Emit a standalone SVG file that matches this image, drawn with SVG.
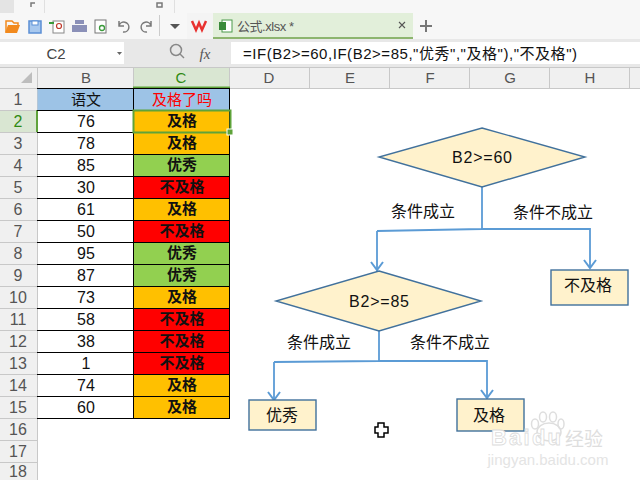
<svg xmlns="http://www.w3.org/2000/svg" width="640" height="480" viewBox="0 0 640 480">
<style>
text{font-family:"Liberation Sans","Noto Sans CJK SC",sans-serif;text-anchor:middle}
.hd{font-size:15px;fill:#555}
.rn{font-size:16px;fill:#555}
.act{fill:#2f8a12}
.v{font-size:16px;fill:#111}
.c{font-size:15px;fill:#111}
.r{font-size:15px;font-weight:bold;fill:#111}
.cell{stroke:#000;stroke-width:1}
.hl{stroke:#c8c8c8;stroke-width:1;fill:none}
.shape{fill:#fff2cc;stroke:#41719c;stroke-width:1.4}
.fl{font-size:16px;fill:#111}
.lb{font-size:16px;fill:#111}
.con{fill:none;stroke:#5b9bd5;stroke-width:1.8}
.head{fill:none;stroke:#5b9bd5;stroke-width:2}
.ic{fill:none;stroke:#7a7a7a;stroke-width:1.5}
.paw{fill:none;stroke:#dedede;stroke-width:1.5}
</style>
<rect width="640" height="480" fill="#fff"/>
<g id="toolbar">
<rect width="640" height="40" fill="#f7f7f7"/>
<rect width="14" height="13" fill="#e4e4e4"/>
<rect x="44" width="1" height="13" fill="#e0e0e0"/>
<rect x="174" width="1" height="13" fill="#e0e0e0"/>
<path class="ic" d="M31 7V3h4M157 7h5V3h-5z" stroke-width="1"/>
<path d="M5 33l3-8h12l-3 8z" fill="#f28a1e"/>
<path d="M6 32V21h6l2 2h4v2" fill="none" stroke="#f28a1e" stroke-width="1.500"/>
<rect x="29" y="21" width="12" height="12" fill="#a8c8ee" stroke="#5b8fd5" stroke-width="1.500"/>
<rect x="32" y="21" width="6" height="4" fill="#fff" stroke="#5b8fd5"/>
<rect x="53" y="21" width="11" height="12" fill="#fff" stroke="#888"/>
<circle cx="59" cy="26" r="2.500" fill="none" stroke="#c0392b" stroke-width="1.200"/>
<path d="M49 23h5" stroke="#3a9a3a" stroke-width="2"/>
<rect x="72" y="25" width="15" height="7" fill="#8b90b8"/>
<rect x="75" y="20" width="9" height="4" fill="#8b90b8"/>
<rect x="95" y="20" width="11" height="13" fill="#fff" stroke="#777"/>
<circle cx="102" cy="28" r="2.500" fill="none" stroke="#3a9a3a" stroke-width="1.300"/>
<path class="ic" d="M119 26a5 5 0 1 1 4 6M119 21v5h5" stroke="#666" stroke-width="2"/>
<path class="ic" d="M151 26a5 5 0 1 0-4 6M151 21v5h-5" stroke="#bbb" stroke-width="2"/>
<rect x="159" y="15" width="1" height="21" fill="#ccc"/>
<path d="M170 24h10l-5 5z" fill="#555"/>
<rect x="187" y="13" width="26" height="26" fill="#f4f4f4"/>
<path d="M192 21l4 9 3-7 3 7 4-9" fill="none" stroke="#e8312f" stroke-width="2.500"/>
<rect x="213" y="13" width="200" height="26" fill="#e2efda"/>
<rect x="213" y="37" width="200" height="2" fill="#8db56f"/>
<rect x="222" y="20" width="10" height="12" fill="#fff" stroke="#4a9a4a"/>
<rect x="219" y="22" width="7" height="8" fill="#3a8a3a"/>
<text x="237" y="31" font-size="13" fill="#555" style="text-anchor:start" textLength="57">公式.xlsx *</text>
<path d="M399 22l6 6M405 22l-6 6" stroke="#555" stroke-width="1.100"/>
<path d="M426 20v12M420 26h12" stroke="#777" stroke-width="2"/>
</g>
<g id="formula-bar">
<rect y="39" width="640" height="28" fill="#e8e8e8"/>
<rect y="42" width="124" height="22" fill="#fff"/>
<text x="56" y="59" font-size="15" fill="#444">C2</text>
<path d="M117 52h5l-2.500 3z" fill="#666"/>
<circle cx="176" cy="50" r="5.500" fill="none" stroke="#888" stroke-width="1.500"/>
<path d="M180 54l4 4" stroke="#888" stroke-width="1.500"/>
<text x="205" y="59" font-size="15" font-style="italic" fill="#555" style="font-family:'Liberation Serif',serif">fx</text>
<rect x="231" y="42" width="409" height="22" fill="#fff"/>
<text x="243" y="59" font-size="15" fill="#111" style="text-anchor:start" textLength="334">=IF(B2&gt;=60,IF(B2&gt;=85,"优秀","及格"),"不及格")</text>
</g>
<g id="sheet-headers">
<rect y="67" width="640" height="21" fill="#f0f0f0"/>
<rect y="88" width="37" height="392" fill="#f0f0f0"/>
<rect x="133" y="67" width="97" height="21" fill="#d9e6d2"/>
<rect y="110" width="37" height="22" fill="#d9e6d2"/>
<path d="M32 72v11h-11z" fill="#bdbdbd"/>
<path class="hl" d="M0 67.500H640M0 88.500H640M37.500 67V480M133.500 67V88M229.500 67V88M309.500 67V88M389.500 67V88M469.500 67V88M549.500 67V88M629.500 67V88"/>
<path class="hl" d="M0 110.500H37M0 132.500H37M0 154.500H37M0 176.500H37M0 198.500H37M0 220.500H37M0 242.500H37M0 264.500H37M0 286.500H37M0 308.500H37M0 330.500H37M0 352.500H37M0 374.500H37M0 396.500H37M0 418.500H37M0 440.500H37M0 462.500H37"/>
<rect x="36" y="110" width="2" height="22" fill="#5fa33a"/>
<rect x="133" y="86.500" width="97" height="2" fill="#5fa33a"/>
<text class="hd" x="86" y="83">B</text><text class="hd act" x="181" y="83">C</text><text class="hd" x="269" y="83">D</text><text class="hd" x="350" y="83">E</text><text class="hd" x="430" y="83">F</text><text class="hd" x="510" y="83">G</text><text class="hd" x="590" y="83">H</text>
<text class="rn" x="18" y="105">1</text><text class="rn act" x="18" y="127">2</text><text class="rn" x="18" y="149">3</text><text class="rn" x="18" y="171">4</text><text class="rn" x="18" y="193">5</text><text class="rn" x="18" y="215">6</text><text class="rn" x="18" y="237">7</text><text class="rn" x="18" y="259">8</text><text class="rn" x="18" y="281">9</text><text class="rn" x="18" y="303">10</text><text class="rn" x="18" y="325">11</text><text class="rn" x="18" y="347">12</text><text class="rn" x="18" y="369">13</text><text class="rn" x="18" y="391">14</text><text class="rn" x="18" y="413">15</text><text class="rn" x="18" y="435">16</text><text class="rn" x="18" y="457">17</text><text class="rn" x="18" y="477">18</text>
</g>
<g id="table">
<rect x="37.500" y="88.500" width="192" height="22" fill="#9dc3e6"/>
<rect x="133.500" y="110.500" width="96" height="44" fill="#ffc000"/>
<rect x="133.500" y="154.500" width="96" height="22" fill="#92d050"/>
<rect x="133.500" y="176.500" width="96" height="22" fill="#ff0000"/>
<rect x="133.500" y="198.500" width="96" height="22" fill="#ffc000"/>
<rect x="133.500" y="220.500" width="96" height="22" fill="#ff0000"/>
<rect x="133.500" y="242.500" width="96" height="44" fill="#92d050"/>
<rect x="133.500" y="286.500" width="96" height="22" fill="#ffc000"/>
<rect x="133.500" y="308.500" width="96" height="66" fill="#ff0000"/>
<rect x="133.500" y="374.500" width="96" height="44" fill="#ffc000"/>
<path class="cell" d="M37 88.500H230M37 110.500H230M37 132.500H230M37 154.500H230M37 176.500H230M37 198.500H230M37 220.500H230M37 242.500H230M37 264.500H230M37 286.500H230M37 308.500H230M37 330.500H230M37 352.500H230M37 374.500H230M37 396.500H230M37 418.500H230M133.500 88V419M229.500 88V419"/>
<text class="c" x="86" y="105">语文</text><text x="182" y="105" font-size="15" fill="#ff0000">及格了吗</text>
<text class="v" x="86" y="127">76</text><text class="r" x="182" y="126">及格</text>
<text class="v" x="86" y="149">78</text><text class="r" x="182" y="148">及格</text>
<text class="v" x="86" y="171">85</text><text class="r" x="182" y="170">优秀</text>
<text class="v" x="86" y="193">30</text><text class="r" x="182" y="192">不及格</text>
<text class="v" x="86" y="215">61</text><text class="r" x="182" y="214">及格</text>
<text class="v" x="86" y="237">50</text><text class="r" x="182" y="236">不及格</text>
<text class="v" x="86" y="259">95</text><text class="r" x="182" y="258">优秀</text>
<text class="v" x="86" y="281">87</text><text class="r" x="182" y="280">优秀</text>
<text class="v" x="86" y="303">73</text><text class="r" x="182" y="302">及格</text>
<text class="v" x="86" y="325">58</text><text class="r" x="182" y="324">不及格</text>
<text class="v" x="86" y="347">38</text><text class="r" x="182" y="346">不及格</text>
<text class="v" x="86" y="369">1</text><text class="r" x="182" y="368">不及格</text>
<text class="v" x="86" y="391">74</text><text class="r" x="182" y="390">及格</text>
<text class="v" x="86" y="413">60</text><text class="r" x="182" y="412">及格</text>
<rect x="133.500" y="110.500" width="97" height="22" fill="none" stroke="#5fa33a" stroke-width="2"/>
<rect x="227" y="129" width="6" height="6" fill="#5fa33a" stroke="#fff"/>
</g>
<g id="connectors">
<path class="con" d="M482 187V229M377 231L482 229L590 229V268M377 231V271"/>
<path class="head" d="M371 262L377 270L383 262M584 260L590 268L596 260"/>
<path class="con" d="M379 331V361M274 362L379 361H487V398M274 362V400"/>
<path class="head" d="M268 392L274 400L280 392M481 390L487 398L493 390"/>
</g>
<g id="node-b60">
<polygon class="shape" points="482,128 585,157 482,187 379,157"/>
<text class="fl" x="482" y="163" textLength="60">B2&gt;=60</text>
</g>
<g id="node-b85">
<polygon class="shape" points="379,271 481,301 379,331 276,301"/>
<text class="fl" x="379" y="307" textLength="60">B2&gt;=85</text>
</g>
<g id="node-fail">
<rect class="shape" x="551" y="270" width="77" height="35"/>
<text class="fl" x="588" y="291">不及格</text>
</g>
<g id="node-excellent">
<rect class="shape" x="249" y="400" width="67" height="30"/>
<text class="fl" x="282" y="421">优秀</text>
</g>
<g id="node-pass">
<rect class="shape" x="457" y="399" width="67" height="32"/>
<text class="fl" x="489" y="421">及格</text>
</g>
<g id="labels">
<text class="lb" x="423" y="217">条件成立</text>
<text class="lb" x="553" y="218">条件不成立</text>
<text class="lb" x="319" y="348">条件成立</text>
<text class="lb" x="450" y="348">条件不成立</text>
</g>
<g id="cursor">
<path d="M378 423h6v4h4v6h-4v4h-6v-4h-3v-6h3z" fill="#fff" stroke="#000" stroke-width="1.500"/>
</g>
<g id="watermark">
<ellipse class="paw" cx="549" cy="432" rx="12" ry="9"/>
<ellipse class="paw" cx="535" cy="424" rx="3.500" ry="5"/>
<ellipse class="paw" cx="543" cy="417" rx="3.500" ry="5"/>
<ellipse class="paw" cx="553" cy="417" rx="3.500" ry="5"/>
<ellipse class="paw" cx="561" cy="424" rx="3" ry="5"/>
<text x="526" y="445" font-size="22" font-weight="bold" fill="#fff" stroke="#dcdcdc" stroke-width=".8" textLength="70">Baidu</text>
<text x="584" y="446" font-size="19" fill="#dedede">经验</text>
<text x="548" y="465" font-size="15" fill="#e4e4e4">jingyan.baidu.com</text>
</g>
</svg>
